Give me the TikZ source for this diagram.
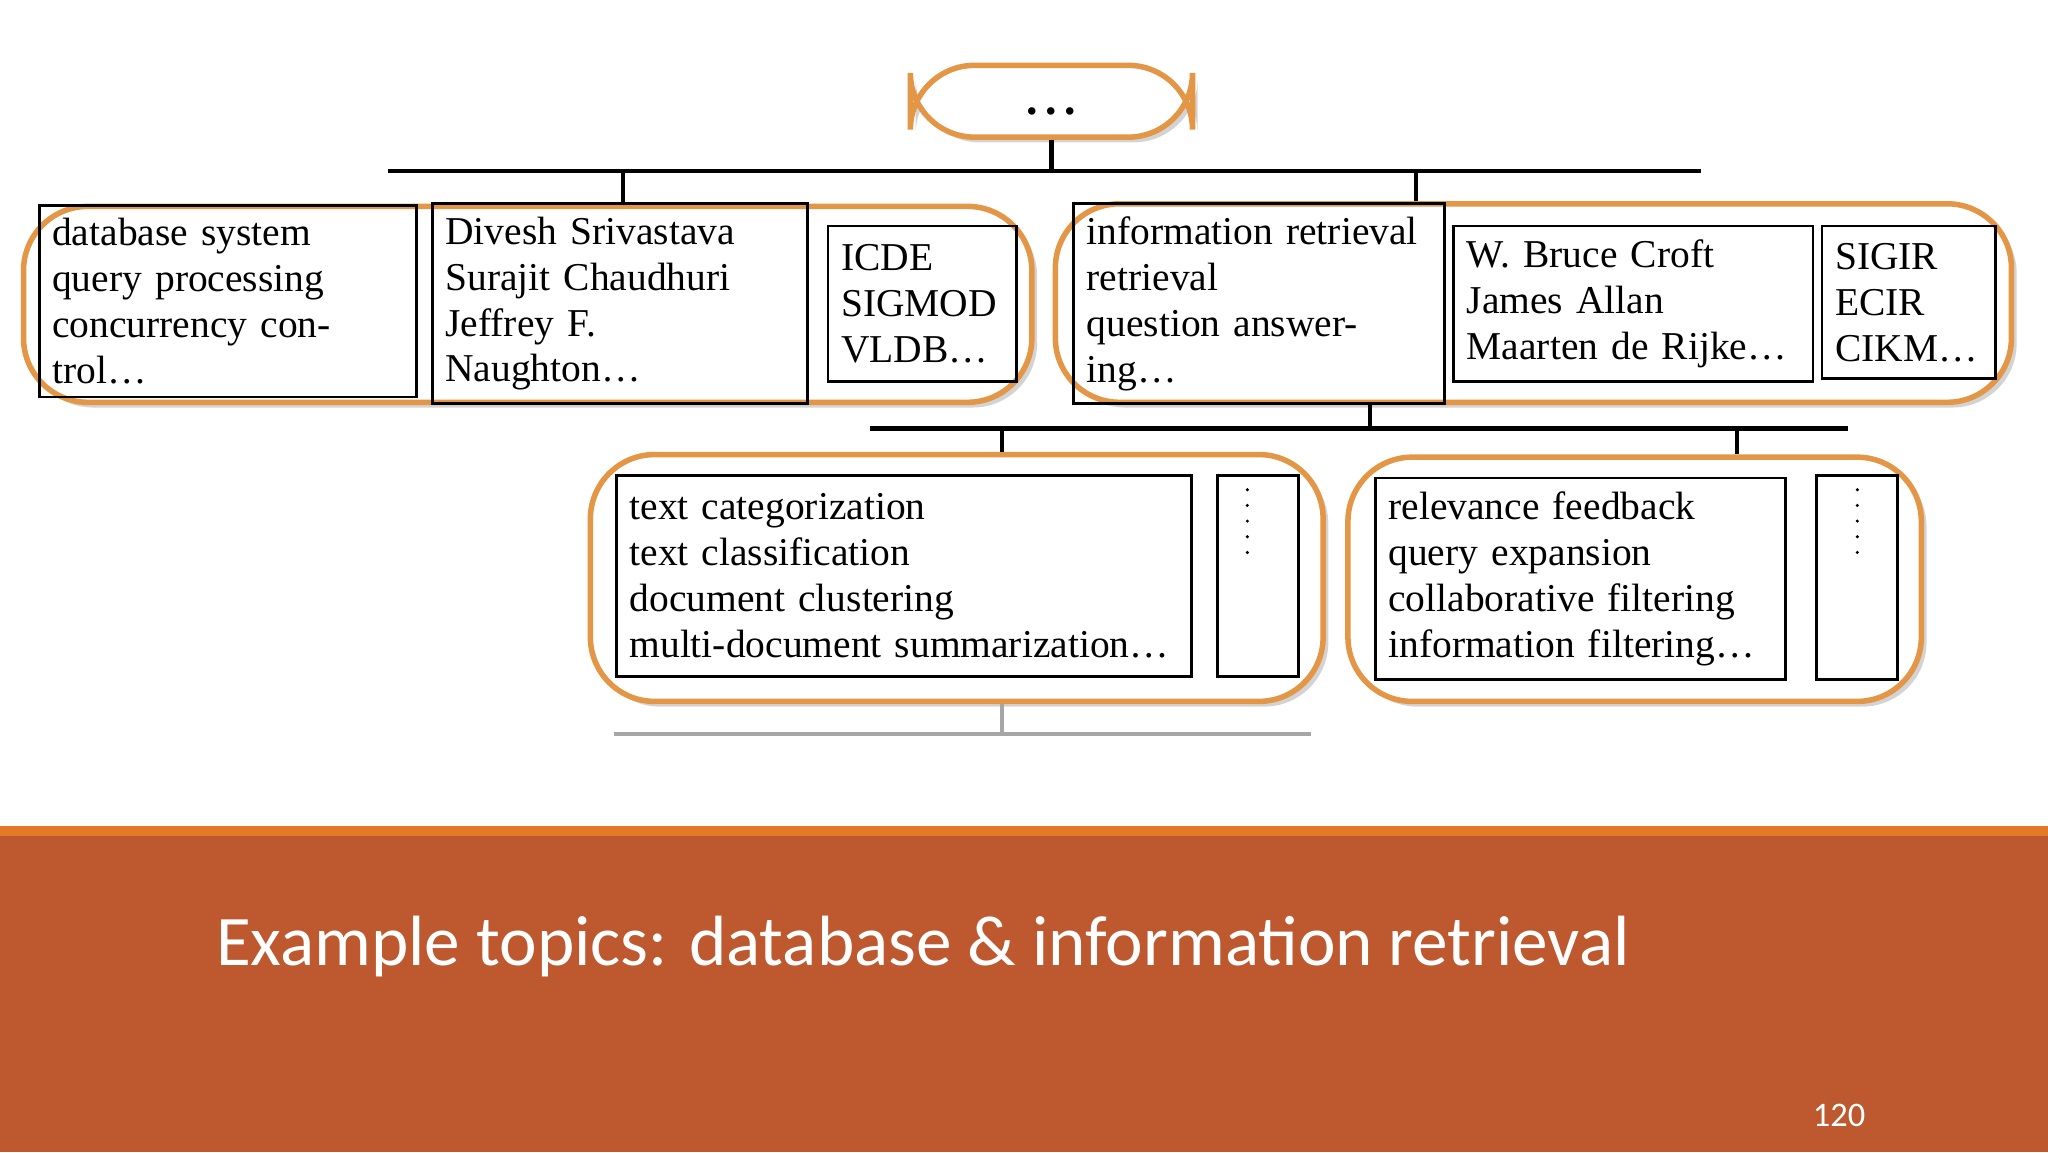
\documentclass[tikz,border=0pt]{standalone}
\usepackage{fontspec}
\setmainfont{Liberation Serif}
\newfontfamily\slidefont{Carlito}
\usetikzlibrary{shadows, positioning}
\definecolor{slideorange}{RGB}{190,88,46}
\definecolor{stripeorange}{RGB}{228,122,40}
\definecolor{frameorange}{RGB}{226,150,70}
\tikzset{
  group/.style={draw=frameorange, line width=1.2pt, rounded corners=14pt, fill=white,
    drop shadow={shadow xshift=0.04cm, shadow yshift=-0.04cm, opacity=0.35}},
  cell/.style={draw, line width=0.6pt, align=left, inner sep=0.1cm,
    font=\fontsize{8.6}{10}\selectfont},
  link/.style={line width=1pt},
}
\begin{document}
\begin{tikzpicture}[y=-1cm]
  \useasboundingbox (0,0) rectangle (15.68,8.82);
  % footer band
  \fill[slideorange] (0,6.32) rectangle (15.68,8.82);
  \fill[stripeorange] (0,6.32) rectangle (15.68,6.40);
  \node[anchor=west, text=white, font=\slidefont\fontsize{15.5}{18}\selectfont] (title) at (1.53,7.25) {Example topics: database \& information retrieval};
  \node[text=white, font=\slidefont\fontsize{7.5}{9}\selectfont] (page) at (14.08,8.54) {120};

  % root
  \node[group, minimum width=2.16cm, minimum height=0.55cm] (root) at (8.05,0.775) {};
  \node[font=\bfseries] (rootdots) at (8.05,0.85) {.\,.\,.};

  % first level
  \node[group, minimum width=7.72cm, minimum height=1.5cm] (db) at (4.04,2.33) {};
  \node[group, minimum width=7.32cm, minimum height=1.52cm] (ir) at (11.74,2.32) {};
  \node[cell, minimum width=2.89cm, minimum height=1.19cm, text width=2.69cm] (dbterms) at (1.745,2.305) {database system\\query processing\\concurrency control\dots};
  \node[cell, minimum width=2.87cm, minimum height=1.19cm, text width=2.67cm] (dbauthors) at (4.745,2.325) {Divesh Srivastava\\Surajit Chaudhuri\\Jeffrey F. Naughton\dots};
  \node[cell, minimum width=1.44cm, minimum height=1.19cm, text width=1.24cm] (dbvenues) at (7.06,2.325) {ICDE\\SIGMOD\\VLDB\dots};
  \node[cell, minimum width=2.84cm, minimum height=1.19cm, text width=2.64cm] (irterms) at (9.64,2.325) {information retrieval\\retrieval\\question answering\dots};
  \node[cell, minimum width=2.75cm, minimum height=1.19cm, text width=2.55cm] (irauthors) at (12.505,2.325) {W. Bruce Croft\\James Allan\\Maarten de Rijke\dots};
  \node[cell, minimum width=1.33cm, minimum height=1.17cm, text width=1.13cm] (irvenues) at (14.615,2.315) {SIGIR\\ECIR\\CIKM\dots};

  % second level
  \node[group, minimum width=5.61cm, minimum height=1.89cm] (tc) at (7.325,4.425) {};
  \node[group, minimum width=4.39cm, minimum height=1.87cm] (rf) at (12.515,4.435) {};
  \node[cell, minimum width=4.4cm, minimum height=1.54cm, text width=4.2cm] (tcterms) at (6.92,4.41) {text categorization\\text classification\\document clustering\\multi-document summarization\dots};
  \node[cell, minimum width=0.62cm, minimum height=1.54cm] (tcmore) at (9.63,4.41) {};
  \node[cell, minimum width=3.14cm, minimum height=1.54cm, text width=2.94cm] (rfterms) at (12.1,4.43) {relevance feedback\\query expansion\\collaborative filtering\\information filtering\dots};
  \node[cell, minimum width=0.62cm, minimum height=1.56cm] (rfmore) at (14.22,4.42) {};
  \foreach \k in {0,...,4} {
    \fill (tcmore.north) ++(-0.08,0.12+0.12*\k) circle (0.013);
    \fill (rfmore.north) ++(0,0.12+0.12*\k) circle (0.013);
  }

  % connectors
  \coordinate (barA) at (2.97,1.31);
  \coordinate (barB) at (13.02,1.31);
  \coordinate (barC) at (6.66,3.28);
  \coordinate (barD) at (14.15,3.28);
  \coordinate (barE) at (4.70,5.62);
  \coordinate (barF) at (10.04,5.62);
  \draw[link] (barA) -- (barB);
  \draw[link] (root.south) -- (root.south |- barA);
  \draw[link] (db.north -| 4.77,0) -- (4.77,1.31);
  \draw[link] (ir.north -| 10.84,0) -- (10.84,1.31);
  \draw[link] (barC) -- (barD);
  \draw[link] (ir.south -| 10.49,0) -- (10.49,3.28);
  \draw[link] (tc.north -| 7.67,0) -- (7.67,3.28);
  \draw[link] (rf.north -| 13.30,0) -- (13.30,3.28);
  \draw[gray!70, line width=1pt] (barE) -- (barF);
  \draw[gray!70, line width=1pt] (tc.south -| 7.67,0) -- (7.67,5.62);
\end{tikzpicture}
\end{document}
